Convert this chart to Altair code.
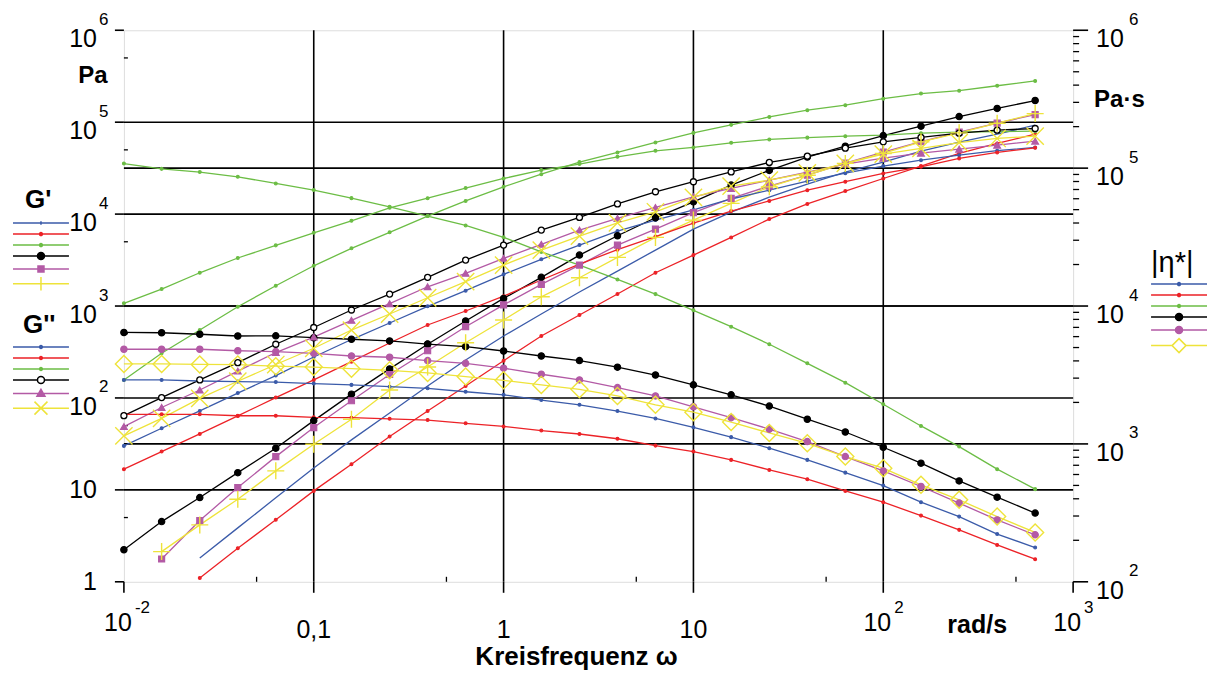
import altair as alt
import pandas as pd

# ---------------- data ----------------
W = [0.01, 0.0158, 0.0251, 0.0398, 0.0631, 0.1, 0.158, 0.251, 0.398, 0.631,
     1.0, 1.58, 2.51, 3.98, 6.31, 10.0, 15.8, 25.1, 39.8, 63.1,
     100.0, 158.0, 251.0, 398.0, 631.0]

# storage modulus G' [Pa]
GP_BLUE = [None, None, 1.81, 3.86, 8.19, 17.3, 35.0, 68.7, 135, 259, 472, 819, 1420, 2400, 4060,
           6870, 10500, 15300, 21200, 28600, 36800, 48400, 60600, 74100, 92800]
GP_RED = [None, None, 1.10, 2.32, 4.72, 9.75, 19.0, 38.0, 72.2, 135, 254, 472, 799, 1350, 2300,
          3580, 5580, 8830, 12900, 17800, 24400, 33300, 45700, 58700, 74100]
GP_GREEN = [157, 306, 548, 983, 1660, 2740, 4240, 6330, 9510, 13900, 19800, 27200, 36800, 46900,
            60200, 76500, 93500, 114000, 135000, 153000, 180000, 205000, 220000, 249000, 281000]
GP_BLACK = [2.23, 4.52, 8.25, 15.4, 28.4, 56.7, 110, 207, 384, 687, 1210, 2050, 3580, 5810, 9120,
            13600, 20700, 29900, 41700, 54800, 71400, 90500, 115000, 141000, 172000]
GP_MAGENTA = [None, 1.77, 4.64, 10.6, 23.0, 47.6, 93.2, 180, 326, 596, 1030, 1720, 2790, 4600, 6870,
              10400, 14800, 20200, 26500, 35800, 47200, 61400, 77900, 97500, 121000]
GP_YELLOW = [None, 2.13, 4.16, 7.92, 16.1, 31.4, 58.7, 122, 217, 399, 704, 1260, 2030, 3380, 5580,
             8610, 13100, 19800, 26500, 35600, 45700, 61100, 76500, 97500, 124000]

# loss modulus G'' [Pa]
GPP_BLUE = [30.1, 46.8, 72.2, 113, 175, 279, 432, 654, 993, 1470, 2210, 3220, 4600, 6540, 8610,
            11100, 14600, 18200, 22800, 27900, 33300, 38600, 43800, 49000, 53100]
GPP_RED = [16.8, 26.1, 40.6, 63.7, 101, 157, 248, 396, 622, 883, 1280, 1920, 2860, 4100, 5690,
           7990, 10800, 13900, 18200, 22500, 27700, 32700, 40300, 46900, 52600]
GPP_GREEN = [1070, 1530, 2300, 3330, 4570, 6260, 8460, 11700, 14900, 19200, 24400, 30100, 35000,
             42000, 48800, 53100, 59600, 64900, 67900, 70400, 72200, 75900, 77900, 78800, 79800]
GPP_BLACK = [64.2, 101, 157, 242, 384, 584, 905, 1350, 2050, 3160, 4600, 6700, 9210, 12900, 17500,
             22500, 28800, 36500, 42700, 52200, 61100, 68200, 75900, 81900, 85400]
GPP_MAGENTA = [48.8, 78.8, 122, 196, 312, 460, 699, 1060, 1620, 2270, 3300, 4690, 6700, 8980, 11800,
               15400, 19000, 23400, 28600, 35000, 40600, 46000, 50900, 56200, 62200]
GPP_YELLOW = [38.6, 59.9, 98.8, 152, 231, 347, 548, 819, 1230, 1840, 2790, 4060, 5770, 8040, 10600,
              15200, 20200, 23400, 28100, 35600, 44900, 51800, 59900, 66500, 70400]

# complex viscosity |eta*| [Pa s]
ETA_BLUE = [2910, 2910, 2860, 2830, 2810, 2740, 2680, 2600, 2530, 2390, 2270, 2080, 1920, 1730, 1530,
            1320, 1120, 931, 766, 619, 499, 378, 297, 222, 177]
ETA_RED = [1640, 1640, 1640, 1600, 1600, 1560, 1550, 1520, 1490, 1410, 1340, 1250, 1180, 1090, 972,
           880, 766, 648, 555, 456, 378, 302, 238, 185, 146]
ETA_GREEN = [108000, 98800, 93600, 86500, 77500, 69300, 60600, 52400, 44900, 38400, 31500, 24700,
             19800, 15600, 12200, 9310, 7080, 5280, 3840, 2780, 1940, 1350, 956, 656, 470]
ETA_BLACK = [6430, 6400, 6240, 6060, 6080, 5890, 5740, 5580, 5300, 5070, 4720, 4340, 4020, 3600, 3160,
             2680, 2270, 1880, 1510, 1220, 946, 725, 539, 411, 315]
ETA_MAGENTA = [4860, 4860, 4860, 4740, 4670, 4540, 4340, 4250, 4020, 3840, 3540, 3200, 2910, 2560,
               2230, 1860, 1550, 1280, 1040, 809, 637, 491, 372, 281, 219]
ETA_YELLOW = [3800, 3800, 3770, 3760, 3660, 3610, 3510, 3420, 3270, 3080, 2890, 2680, 2490, 2230,
              1920, 1700, 1440, 1200, 1010, 809, 667, 505, 393, 297, 228]

# axis ticks and tick labels
LEFT_TICKS = [1, 10, 100, 1000, 10000, 100000, 1000000]
LEFT_BASE = ["1", "10", "10", "10", "10", "10", "10"]
LEFT_EXP = ["", "", "2", "3", "4", "5", "6"]
RIGHT_TICKS = [100, 1000, 10000, 100000, 1000000]
RIGHT_BASE = ["10", "10", "10", "10", "10"]
RIGHT_EXP = ["2", "3", "4", "5", "6"]
X_TICKS = [0.01, 0.1, 1, 10, 100, 1000]
X_BASE = ["10", "0,1", "1", "10", "10", "10"]
X_EXP = ["-2", "", "", "", "2", "3"]
LEFT_MINOR = [5, 50, 500, 5000, 50000, 500000]
RIGHT_MINOR = [m * 10 ** e for e in (2, 3, 4, 5) for m in range(2, 10)]
X_MINOR = [0.05, 0.5, 5, 50, 500]

# ---------------- styles ----------------
FONT = "Liberation Sans"
BLUE, RED, GREEN, BLACK, MAGENTA, YELLOW = "#3b5ba9", "#ec2227", "#6cbd45", "#000000", "#b35aa5", "#eee33a"
COLORS = [BLUE, RED, GREEN, BLACK, MAGENTA, YELLOW]
PLUS = "M-1,0H1M0,-1V1"
XMARK = "M-1,-1L1,1M-1,1L1,-1"

left_keys = ["Gp_blue", "Gp_red", "Gp_green", "Gp_black", "Gp_magenta", "Gp_yellow",
             "Gpp_blue", "Gpp_red", "Gpp_green", "Gpp_black", "Gpp_magenta", "Gpp_yellow"]
left_arrays = [GP_BLUE, GP_RED, GP_GREEN, GP_BLACK, GP_MAGENTA, GP_YELLOW,
               GPP_BLUE, GPP_RED, GPP_GREEN, GPP_BLACK, GPP_MAGENTA, GPP_YELLOW]
right_keys = ["eta_blue", "eta_red", "eta_green", "eta_black", "eta_magenta", "eta_yellow"]
right_arrays = [ETA_BLUE, ETA_RED, ETA_GREEN, ETA_BLACK, ETA_MAGENTA, ETA_YELLOW]
COLOR_OF = dict(zip(left_keys, COLORS + COLORS))
COLOR_OF.update(dict(zip(right_keys, COLORS)))


def long_table(keys, arrays):
    rows = []
    for k, arr in zip(keys, arrays):
        for w, v in zip(W, arr):
            if v is not None:
                rows.append({"w": w, "val": v, "series": k})
    return pd.DataFrame(rows)


left_df = long_table(left_keys, left_arrays)
right_df = long_table(right_keys, right_arrays)

XS = alt.Scale(type="log", domain=[0.01, 1000], nice=False)
LS = alt.Scale(type="log", domain=[1, 1e6], nice=False)
RS = alt.Scale(type="log", domain=[100, 1e6], nice=False)


def cscale(keys):
    return alt.Scale(domain=keys, range=[COLOR_OF[k] for k in keys])


def lines(df, keys, yscale):
    return alt.Chart(df).mark_line(strokeWidth=1.3).encode(
        x=alt.X("w:Q", scale=XS, axis=None),
        y=alt.Y("val:Q", scale=yscale, axis=None),
        stroke=alt.Stroke("series:N", scale=cscale(keys), legend=None),
    )


def points(df, keys, yscale, shape, size, fill=None):
    sub = df[df["series"].isin(keys)]
    enc = dict(
        x=alt.X("w:Q", scale=XS, axis=None),
        y=alt.Y("val:Q", scale=yscale, axis=None),
        stroke=alt.Stroke("series:N", scale=cscale(keys), legend=None),
    )
    if fill == "color":
        enc["fill"] = alt.Fill("series:N", scale=cscale(keys), legend=None)
        mk = alt.Chart(sub).mark_point(shape=shape, size=size, opacity=1, strokeWidth=1.2, filled=True)
    elif fill == "white":
        mk = alt.Chart(sub).mark_point(shape=shape, size=size, opacity=1, strokeWidth=1.3, fill="white")
    else:
        mk = alt.Chart(sub).mark_point(shape=shape, size=size, opacity=1, strokeWidth=1.4, filled=False)
    return mk.encode(**enc)


data_layers = [
    lines(left_df, left_keys, LS),
    lines(right_df, right_keys, RS),
    points(left_df, ["Gp_red", "Gp_green", "Gpp_blue", "Gpp_red", "Gpp_green"], LS, "circle", 8, "color"),
    points(right_df, ["eta_blue", "eta_red", "eta_green"], RS, "circle", 8, "color"),
    points(left_df, ["Gp_black"], LS, "circle", 40, "color"),
    points(right_df, ["eta_black", "eta_magenta"], RS, "circle", 40, "color"),
    points(left_df, ["Gp_magenta"], LS, "square", 36, "color"),
    points(left_df, ["Gpp_magenta"], LS, "triangle-up", 45, "color"),
    points(left_df, ["Gpp_black"], LS, "circle", 36, "white"),
    points(left_df, ["Gp_yellow"], LS, PLUS, 290, None),
    points(left_df, ["Gpp_yellow"], LS, XMARK, 300, None),
    points(right_df, ["eta_yellow"], RS, "diamond", 290, None),
]


# ---------------- grid, ticks (through the scales) ----------------
def vrule(values, y0, y1, sw=1.6):
    return alt.Chart(pd.DataFrame({"v": values})).mark_rule(color="black", strokeWidth=sw).encode(
        x=alt.X("v:Q", scale=XS, axis=None), y=alt.value(y0), y2=alt.value(y1))


def hrule(values, scale, x0, x1, sw=1.6):
    return alt.Chart(pd.DataFrame({"v": values})).mark_rule(color="black", strokeWidth=sw).encode(
        y=alt.Y("v:Q", scale=scale, axis=None), x=alt.value(x0), x2=alt.value(x1))


grid_layers = [
    vrule(X_TICKS[1:-1], 0, 552),
    vrule(X_TICKS, 552, 563),
    vrule(X_MINOR, 547, 552, 1.3),
    hrule(LEFT_TICKS[1:-1], LS, 0, 950),
    hrule(LEFT_TICKS, LS, -9, 0),
    hrule(LEFT_MINOR, LS, 0, 4, 1.3),
    hrule(RIGHT_TICKS[1:-1], RS, 0, 950),
    hrule(RIGHT_TICKS, RS, 950, 965),
    hrule(RIGHT_MINOR, RS, 950, 956, 1.3),
]


# ---------------- tick labels ----------------
def ylab(df, scale, flt, x, align, size, dy, field):
    return alt.Chart(df).transform_filter(flt).mark_text(
        align=align, baseline="middle", fontSize=size, font=FONT, dy=dy, color="black").encode(
        y=alt.Y("v:Q", scale=scale, axis=None), x=alt.value(x), text=f"{field}:N")


def xlab(df, flt, y, align, size, dx):
    return alt.Chart(df).transform_filter(flt).mark_text(
        align=align, baseline="middle", fontSize=size, font=FONT, dx=dx, color="black").encode(
        x=alt.X("v:Q", scale=XS, axis=None), y=alt.value(y), text=("exp:N" if size < 20 else "base:N"))


ldf = pd.DataFrame({"v": LEFT_TICKS, "base": LEFT_BASE, "exp": LEFT_EXP})
rdf = pd.DataFrame({"v": RIGHT_TICKS, "base": RIGHT_BASE, "exp": RIGHT_EXP})
xdf = pd.DataFrame({"v": X_TICKS, "base": X_BASE, "exp": X_EXP})
HAS = "datum.exp != ''"
NOT = "datum.exp == ''"
label_layers = [
    ylab(ldf, LS, HAS, -27, "right", 25, 9, "base"),
    ylab(ldf, LS, NOT, -27, "right", 25, 0, "base"),
    ylab(ldf, LS, HAS, -25, "left", 17, -10.5, "exp"),
    ylab(rdf, RS, HAS, 973, "left", 25, 9, "base"),
    ylab(rdf, RS, HAS, 1006, "left", 17, -10.5, "exp"),
    xlab(xdf, HAS, 593, "right", 25, 8),
    xlab(xdf, NOT, 600, "center", 25, 0),
    xlab(xdf, HAS, 578, "left", 17, 11),
]


# ---------------- legends (Vega legends with line+marker symbols) ----------------
def dot(r):
    return f"M{-r},0A{r},{r} 0 1,0 {r},0A{r},{r} 0 1,0 {-r},0Z"


LINE = "M-5.6,0H5.6"
SPLIT = "M-5.6,0H-0.8M0.8,0H5.6"
SMALL = LINE + dot(0.3)
BIG = LINE + dot(0.7)
SQUARE = LINE + "M-0.6,-0.6H0.6V0.6H-0.6Z"
PLUS_L = LINE + "M0,-1.35V1.35"
TINY = LINE + "M0,-0.35V0.35"
OPEN = SPLIT + dot(0.7)
TRI = LINE + "M0,-0.85L0.8,0.55L-0.8,0.55Z"
X_L = LINE + "M-1.3,-1.3L1.3,1.3M-1.3,1.3L1.3,-1.3"
DIAM = "M-5.6,0H-1.4M1.4,0H5.6M-1.4,0L0,-1.4L1.4,0L0,1.4Z"


def legend_layer(keys, fills, paths, lx, ly):
    leg = alt.Legend(title=None, orient="none", legendX=lx, legendY=ly, labelExpr="''",
                     symbolSize=100, symbolStrokeWidth=1.5, rowPadding=-1.4, padding=0,
                     labelOffset=0, symbolOffset=0, offset=0)
    return alt.Chart(pd.DataFrame({"leg": keys})).transform_filter("false").mark_point(
        opacity=1, strokeWidth=1.5).encode(
        fill=alt.Fill("leg:N", scale=alt.Scale(domain=keys, range=fills), legend=leg),
        stroke=alt.Stroke("leg:N", scale=alt.Scale(domain=keys, range=COLORS), legend=leg),
        shape=alt.Shape("leg:N", scale=alt.Scale(domain=keys, range=paths), legend=leg),
    )


legend_layers = [
    legend_layer(["L1", "L2", "L3", "L4", "L5", "L6"], COLORS,
                 [TINY, SMALL, SMALL, BIG, SQUARE, PLUS_L], -89, 187),
    legend_layer(["M1", "M2", "M3", "M4", "M5", "M6"], [BLUE, RED, GREEN, "white", MAGENTA, YELLOW],
                 [SMALL, SMALL, SMALL, OPEN, TRI, X_L], -89, 311),
    legend_layer(["N1", "N2", "N3", "N4", "N5", "N6"], [BLUE, RED, GREEN, BLACK, MAGENTA, "white"],
                 [SMALL, SMALL, SMALL, BIG, BIG, DIAM], 1050, 248),
]


# ---------------- annotations ----------------
def note(text, x, y, size, weight="bold", align="left"):
    return alt.Chart(pd.DataFrame({"t": [text]})).mark_text(
        align=align, baseline="alphabetic", fontSize=size, fontWeight=weight, font=FONT,
        color="black").encode(x=alt.value(x), y=alt.value(y), text="t:N")


notes = [
    note("Pa", -31, 53, 24, align="center"),
    note("Pa·s", 971, 77, 24),
    note("rad/s", 854, 603, 25, align="center"),
    note("Kreisfrequenz ω", 453, 635, 26, align="center"),
    note("G'", -99, 178, 26),
    note("G''", -101, 303, 26),
    note("|η*|", 1028, 242, 29, weight="normal"),
]

chart = alt.layer(*grid_layers, *data_layers, *label_layers, *legend_layers, *notes).resolve_scale(
    y="independent", fill="independent", stroke="independent", shape="independent"
).properties(
    width=950, height=552,
    padding={"left": 116, "top": 22, "right": 140, "bottom": 90},
    autosize=alt.AutoSizeParams(type="none"),
).configure_view(
    stroke="black", strokeWidth=1.6
).configure(background="white")

chart.save("out.html", embed_options={"renderer": "svg", "actions": False})
